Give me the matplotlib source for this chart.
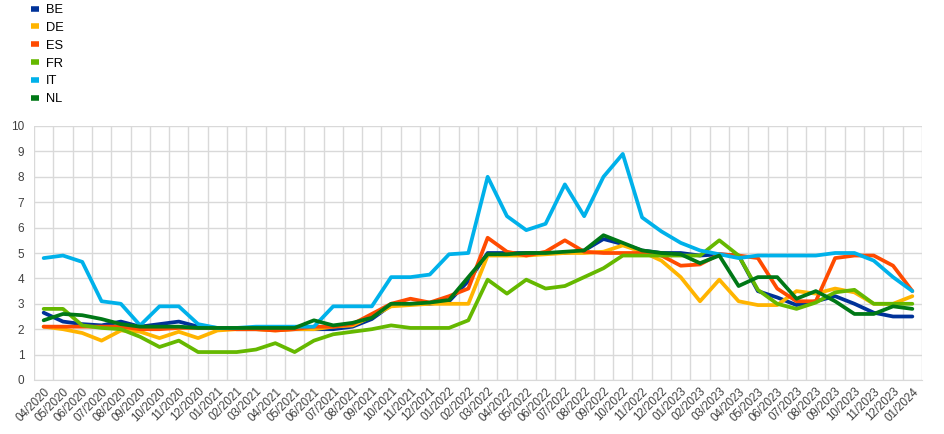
import matplotlib
matplotlib.use("Agg")
import matplotlib.pyplot as plt
from matplotlib.lines import Line2D

months = ["04/2020", "05/2020", "06/2020", "07/2020", "08/2020", "09/2020", "10/2020", "11/2020",
          "12/2020", "01/2021", "02/2021", "03/2021", "04/2021", "05/2021", "06/2021", "07/2021",
          "08/2021", "09/2021", "10/2021", "11/2021", "12/2021", "01/2022", "02/2022", "03/2022",
          "04/2022", "05/2022", "06/2022", "07/2022", "08/2022", "09/2022", "10/2022", "11/2022",
          "12/2022", "01/2023", "02/2023", "03/2023", "04/2023", "05/2023", "06/2023", "07/2023",
          "08/2023", "09/2023", "10/2023", "11/2023", "12/2023", "01/2024"]

BE = [2.65, 2.3, 2.2, 2.15, 2.3, 2.1, 2.2, 2.3, 2.1, 2.05,
      2.0, 2.0, 2.0, 2.0, 2.0, 2.0, 2.1, 2.4, 2.95, 3.0,
      3.0, 3.1, 3.9, 5.0, 5.0, 5.0, 5.0, 5.0, 5.1, 5.55,
      5.35, 5.1, 5.0, 5.0, 4.9, 4.95, 4.9, 3.5, 3.25, 2.95,
      3.1, 3.3, 3.0, 2.65, 2.5, 2.5]
DE = [2.1, 2.0, 1.85, 1.55, 1.95, 1.9, 1.65, 1.9, 1.65, 1.95,
      2.0, 2.0, 1.95, 2.0, 2.0, 2.1, 2.15, 2.5, 2.9, 2.95,
      3.0, 3.0, 3.0, 4.9, 4.9, 4.9, 4.95, 5.0, 5.0, 5.05,
      5.3, 5.05, 4.7, 4.05, 3.1, 3.95, 3.1, 2.95, 2.95, 3.5,
      3.4, 3.6, 3.45, 3.0, 3.0, 3.3]
ES = [2.1, 2.1, 2.1, 2.1, 2.1, 2.0, 2.0, 2.05, 2.05, 2.05,
      2.0, 2.0, 1.95, 2.0, 2.1, 2.1, 2.2, 2.6, 3.0, 3.2,
      3.05, 3.3, 3.6, 5.6, 5.05, 4.9, 5.05, 5.5, 5.05, 5.0,
      5.0, 5.0, 4.9, 4.5, 4.55, 4.95, 4.9, 4.8, 3.6, 3.1,
      3.1, 4.8, 4.9, 4.9, 4.5, 3.5]
FR = [2.8, 2.8, 2.15, 2.05, 2.0, 1.7, 1.3, 1.55, 1.1, 1.1,
      1.1, 1.2, 1.45, 1.1, 1.55, 1.8, 1.9, 2.0, 2.15, 2.05,
      2.05, 2.05, 2.35, 3.95, 3.4, 3.95, 3.6, 3.7, 4.05, 4.4,
      4.9, 4.9, 4.9, 4.9, 4.9, 5.5, 4.9, 3.55, 3.0, 2.8,
      3.05, 3.45, 3.55, 3.0, 3.0, 3.0]
IT = [4.8, 4.9, 4.65, 3.1, 3.0, 2.15, 2.9, 2.9, 2.2, 2.05,
      2.05, 2.1, 2.1, 2.1, 2.1, 2.9, 2.9, 2.9, 4.05, 4.05,
      4.15, 4.95, 5.0, 8.0, 6.45, 5.9, 6.15, 7.7, 6.45, 8.0,
      8.9, 6.4, 5.85, 5.4, 5.1, 4.95, 4.8, 4.9, 4.9, 4.9,
      4.9, 5.0, 5.0, 4.7, 4.05, 3.5]
NL = [2.35, 2.6, 2.55, 2.4, 2.2, 2.1, 2.1, 2.1, 2.05, 2.05,
      2.05, 2.05, 2.05, 2.05, 2.35, 2.15, 2.25, 2.45, 3.0, 3.0,
      3.05, 3.15, 4.05, 4.95, 4.95, 5.0, 5.0, 5.05, 5.1, 5.7,
      5.4, 5.1, 5.0, 4.95, 4.6, 4.9, 3.7, 4.05, 4.05, 3.2,
      3.5, 3.1, 2.6, 2.6, 2.9, 2.8]

series_names = ["BE", "DE", "ES", "FR", "IT", "NL"]
series_values = [BE, DE, ES, FR, IT, NL]
colors = ["#003299", "#FFB400", "#FF4B00", "#65B800", "#00B1EA", "#007816"]
y_ticks = list(range(0, 11))

plt.rcParams['font.family'] = ['Liberation Sans', 'DejaVu Sans']

fig = plt.figure(figsize=(9.45, 4.34), dpi=100)
ax = fig.add_axes([34 / 945, 1 - 380 / 434, (922 - 34) / 945, (380 - 126) / 434])

x = list(range(len(months)))
for name, vals, c in zip(series_names, series_values, colors):
    ax.plot(x, vals, color=c, lw=2.7, solid_joinstyle='round', solid_capstyle='round', label=name)

ax.set_xlim(-0.5, len(months) - 0.5)
ax.set_ylim(0, 10)
ax.set_yticks(y_ticks)
ax.set_xticks(x)
ax.set_xticklabels(months, rotation=45, ha='right', rotation_mode='anchor', fontsize=8.3, color='#404040')
ax.tick_params(axis='both', length=0, labelsize=8.5, colors='#404040')
ax.tick_params(axis='x', pad=4, labelsize=8.3)
ax.tick_params(axis='y', pad=7)

# gridlines: horizontal at integers, vertical at category boundaries
ax.set_xticks([i - 0.5 for i in range(len(months) + 1)], minor=True)
ax.grid(axis='y', which='major', color='#d9d9d9', lw=1.0)
ax.grid(axis='x', which='minor', color='#d9d9d9', lw=1.0)
ax.grid(axis='x', which='major', visible=False)
ax.tick_params(axis='x', which='minor', length=0)
ax.set_axisbelow(True)
for s in ax.spines.values():
    s.set_visible(False)
ax.spines['bottom'].set_visible(True)
ax.spines['bottom'].set_color('#d9d9d9')

handles = [Line2D([0], [0], color=c, lw=4, solid_capstyle='butt') for c in colors]
fig.legend(handles, series_names, loc='upper left', bbox_to_anchor=(31 / 945, 1 - 4 / 434),
           frameon=False, fontsize=9.3, handlelength=0.65, handletextpad=0.5,
           labelspacing=0.45, borderpad=0.0, borderaxespad=0.0)

fig.savefig("out.png", dpi=100)
